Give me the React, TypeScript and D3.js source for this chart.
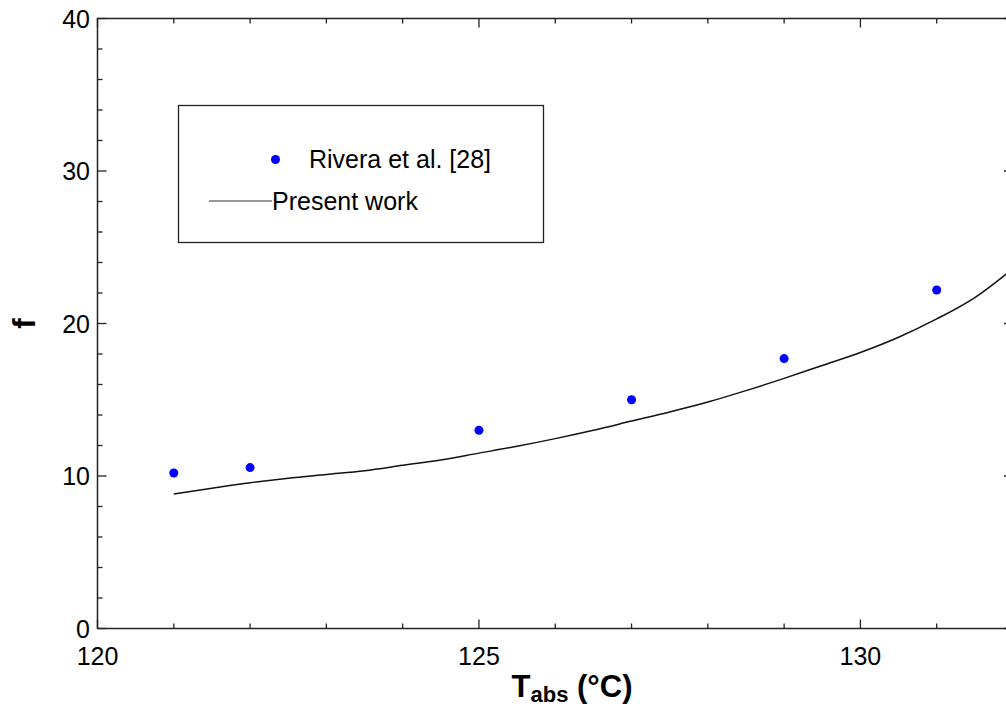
import React, { useEffect, useRef } from 'react';
import * as d3 from 'd3';

// Rivera et al. [28] measurements
const riveraT = [121, 122, 125, 127, 129, 131];
const riveraF = [10.2, 10.55, 13.0, 15.0, 17.7, 22.2];

// Present work curve
const modelT = [121, 121.5, 122, 122.5, 123, 123.5, 124, 124.5, 125, 125.5, 126, 126.5, 127, 127.5, 128, 128.5, 129, 129.5, 130, 130.5, 131, 131.5, 132];
const modelF = [8.82, 9.2, 9.55, 9.85, 10.1, 10.35, 10.7, 11.05, 11.5, 11.95, 12.45, 13.0, 13.6, 14.2, 14.85, 15.6, 16.4, 17.25, 18.1, 19.1, 20.3, 21.7, 23.6];

const xMajor = [120, 125, 130];
const xMinor = d3.range(120, 133, 1);
const yMajor = [0, 10, 20, 30, 40];
const yMinor = d3.range(0, 41, 2);

const FONT = 'Arial, "Liberation Sans", sans-serif';

const App = () => {
    const ref = useRef(null);

    useEffect(() => {
        if (!ref.current) return;
        const svg = d3.select(ref.current);
        svg.selectAll('*').remove();

        const left = 97.5, right = 1013, top = 18.5, bottom = 628.5;

        const x = d3.scaleLinear().domain([120, 132]).range([left, right]);
        const y = d3.scaleLinear().domain([0, 40]).range([bottom, top]);

        const axisColor = '#222';

        svg.append('defs').append('clipPath').attr('id', 'plot')
            .append('rect')
            .attr('x', left).attr('y', top)
            .attr('width', right - left).attr('height', bottom - top);

        // ticks (inward, mirrored on all four sides)
        const ticks = svg.append('g').attr('stroke', axisColor).attr('stroke-width', 1.3);
        xMinor.forEach(v => {
            const len = xMajor.includes(v) ? 9 : 5;
            ticks.append('line').attr('x1', x(v)).attr('x2', x(v)).attr('y1', bottom).attr('y2', bottom - len);
            ticks.append('line').attr('x1', x(v)).attr('x2', x(v)).attr('y1', top).attr('y2', top + len);
        });
        yMinor.forEach(v => {
            const len = yMajor.includes(v) ? 9 : 5;
            ticks.append('line').attr('x1', left).attr('x2', left + len).attr('y1', y(v)).attr('y2', y(v));
            ticks.append('line').attr('x1', right).attr('x2', right - len).attr('y1', y(v)).attr('y2', y(v));
        });

        // frame
        svg.append('rect')
            .attr('x', left).attr('y', top)
            .attr('width', right - left).attr('height', bottom - top)
            .attr('fill', 'none').attr('stroke', axisColor).attr('stroke-width', 1.5);

        // tick labels
        svg.append('g').selectAll('text').data(xMajor).join('text')
            .attr('x', d => x(d)).attr('y', 665)
            .attr('text-anchor', 'middle')
            .attr('font-family', FONT).attr('font-size', 25)
            .text(d => d);

        svg.append('g').selectAll('text').data(yMajor).join('text')
            .attr('x', 90).attr('y', d => y(d) + 9)
            .attr('text-anchor', 'end')
            .attr('font-family', FONT).attr('font-size', 25)
            .text(d => d);

        // axis titles
        const xt = svg.append('text')
            .attr('x', 572).attr('y', 697)
            .attr('text-anchor', 'middle')
            .attr('font-family', FONT).attr('font-size', 31).attr('font-weight', 'bold');
        xt.append('tspan').text('T');
        xt.append('tspan').attr('font-size', 22).attr('dy', 5).text('abs');
        xt.append('tspan').attr('dy', -5).text(' (°C)');

        svg.append('text')
            .attr('transform', `translate(35,${(top + bottom) / 2}) rotate(-90)`)
            .attr('text-anchor', 'middle')
            .attr('font-family', FONT).attr('font-size', 31).attr('font-weight', 'bold')
            .text('f');

        const plot = svg.append('g').attr('clip-path', 'url(#plot)');

        const line = d3.line<number>()
            .x((d, i) => x(modelT[i]))
            .y(d => y(d))
            .curve(d3.curveMonotoneX);

        plot.append('path')
            .datum(modelF)
            .attr('fill', 'none')
            .attr('stroke', '#111')
            .attr('stroke-width', 1.5)
            .attr('d', line);

        plot.append('g').selectAll('circle').data(riveraF).join('circle')
            .attr('cx', (d, i) => x(riveraT[i]))
            .attr('cy', d => y(d))
            .attr('r', 4.5)
            .attr('fill', '#0000ff');

        // legend
        const lg = svg.append('g');
        lg.append('rect')
            .attr('x', 178.5).attr('y', 105.5).attr('width', 365).attr('height', 137)
            .attr('fill', 'white').attr('stroke', axisColor).attr('stroke-width', 1.3);
        lg.append('circle').attr('cx', 275.5).attr('cy', 159.5).attr('r', 4.5).attr('fill', '#0000ff');
        lg.append('text').attr('x', 309).attr('y', 168)
            .attr('font-family', FONT).attr('font-size', 25).text('Rivera et al. [28]');
        lg.append('line').attr('x1', 209).attr('x2', 272).attr('y1', 201).attr('y2', 201)
            .attr('stroke', '#333').attr('stroke-width', 1.2);
        lg.append('text').attr('x', 272).attr('y', 209.5)
            .attr('font-family', FONT).attr('font-size', 25).text('Present work');
    }, []);

    return (
        <svg
            ref={ref}
            width={1006}
            height={708}
            style={{ position: 'absolute', left: 0, top: 0, background: 'white' }}
        />
    );
};

export default App;
